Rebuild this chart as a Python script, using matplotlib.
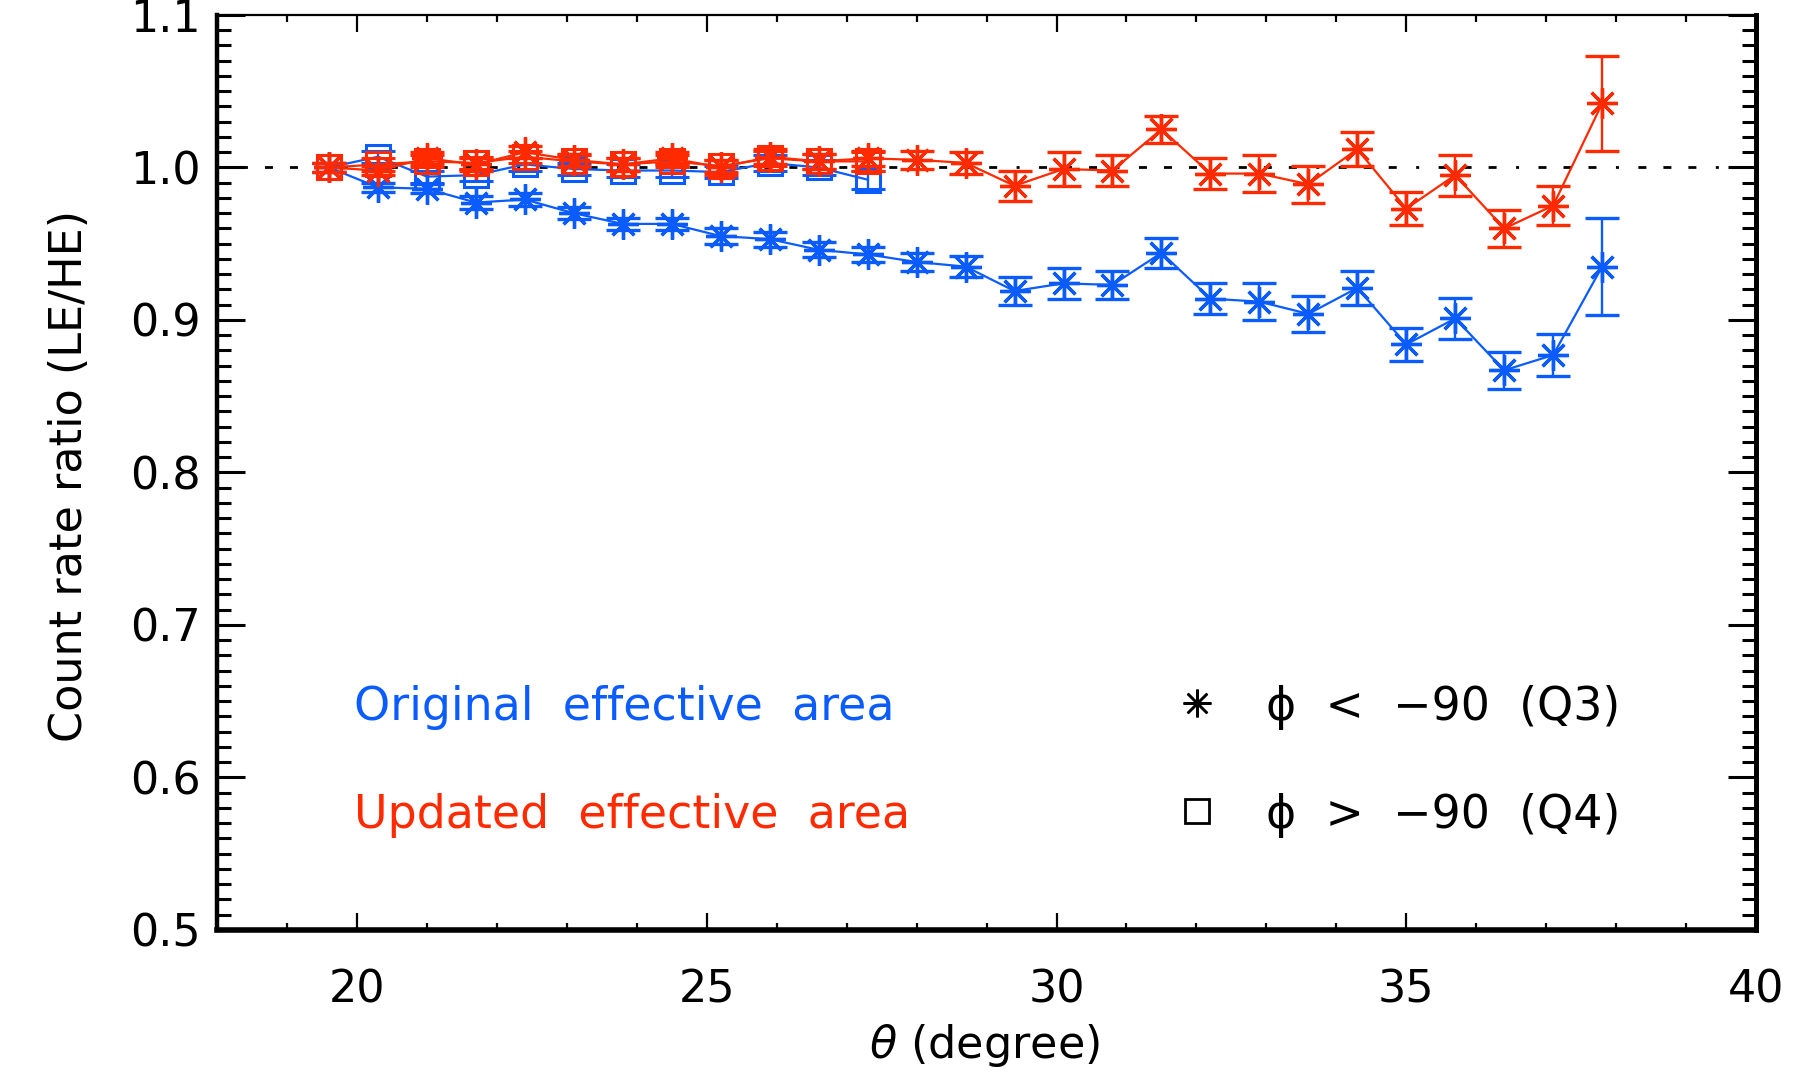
import matplotlib
matplotlib.use("Agg")
import matplotlib.pyplot as plt
from matplotlib.ticker import MultipleLocator

# ---- data ----
theta = [19.6, 20.3, 21.0, 21.7, 22.4, 23.1, 23.8, 24.5, 25.2, 25.9, 26.6, 27.3,
         28.0, 28.7, 29.4, 30.1, 30.8, 31.5, 32.2, 32.9, 33.6, 34.3, 35.0, 35.7,
         36.4, 37.1, 37.8]
theta_q4 = [19.6, 20.3, 21.0, 21.7, 22.4, 23.1, 23.8, 24.5, 25.2, 25.9, 26.6, 27.3]

orig_q3 = [1.000, 0.987, 0.986, 0.977, 0.979, 0.970, 0.963, 0.963, 0.955, 0.953,
           0.946, 0.943, 0.938, 0.935, 0.919, 0.924, 0.923, 0.944, 0.914, 0.912,
           0.904, 0.921, 0.884, 0.901, 0.867, 0.877, 0.935]
orig_q3_err = [0.003, 0.003, 0.003, 0.004, 0.004, 0.004, 0.004, 0.004, 0.005, 0.005,
               0.005, 0.005, 0.006, 0.007, 0.009, 0.010, 0.009, 0.010, 0.010, 0.012,
               0.012, 0.011, 0.011, 0.0135, 0.012, 0.014, 0.032]

upd_q3 = [1.000, 0.998, 1.006, 1.002, 1.010, 1.005, 1.002, 1.006, 1.000, 1.007,
          1.004, 1.006, 1.005, 1.003, 0.988, 0.999, 0.998, 1.025, 0.996, 0.996,
          0.989, 1.012, 0.973, 0.995, 0.960, 0.975, 1.042]
upd_q3_err = [0.003, 0.003, 0.004, 0.004, 0.004, 0.004, 0.004, 0.004, 0.005, 0.005,
              0.005, 0.005, 0.006, 0.007, 0.010, 0.011, 0.010, 0.009, 0.010, 0.012,
              0.012, 0.011, 0.011, 0.0135, 0.012, 0.013, 0.031]

orig_q4 = [1.000, 1.007, 0.994, 0.995, 1.002, 0.999, 0.998, 0.998, 0.997, 1.003,
           1.000, 0.992]
orig_q4_err = [0.003, 0.004, 0.004, 0.004, 0.004, 0.004, 0.004, 0.004, 0.004, 0.005,
               0.005, 0.006]
upd_q4 = [1.000, 1.002, 1.004, 1.003, 1.007, 1.004, 1.002, 1.004, 1.001, 1.006,
          1.004, 1.004]
upd_q4_err = [0.003, 0.004, 0.004, 0.004, 0.004, 0.004, 0.004, 0.004, 0.004, 0.005,
              0.005, 0.006]

x_ticks = [20, 25, 30, 35, 40]
y_ticks = [0.5, 0.6, 0.7, 0.8, 0.9, 1.0, 1.1]

BLUE = "#0a5cff"
RED = "#ff2a00"

plt.rcParams['font.family'] = ['DejaVu Sans']
plt.rcParams['mathtext.fontset'] = 'dejavusans'

fig = plt.figure(figsize=(17.97, 10.77), dpi=100)
ax = fig.add_axes([0.1208, 0.1365, 0.8564, 0.8496])

ax.set_xlim(18, 40)
ax.set_ylim(0.5, 1.1)

# reference line
ax.axhline(1.0, color='black', lw=2,
           linestyle=(0, (1.08, 7.0, 2.88, 6.12, 2.88, 6.12, 2.88, 7.0)), zorder=1)

star = (8, 2, 0)
common = dict(lw=1.6, elinewidth=1.7, capsize=12, capthick=1.7)

ax.errorbar(theta_q4, orig_q4, yerr=orig_q4_err, color=BLUE, marker='s', ms=17,
            mfc='none', mew=2.2, zorder=3, **common)
ax.errorbar(theta, orig_q3, yerr=orig_q3_err, color=BLUE, marker=star, ms=22,
            mew=2.4, zorder=4, **common)
ax.errorbar(theta_q4, upd_q4, yerr=upd_q4_err, color=RED, marker='s', ms=17,
            mfc='none', mew=2.2, zorder=5, **common)
ax.errorbar(theta, upd_q3, yerr=upd_q3_err, color=RED, marker=star, ms=22,
            mew=2.4, zorder=6, **common)

# ticks
ax.set_xticks(x_ticks)
ax.set_xticklabels([str(t) for t in x_ticks])
ax.set_yticks(y_ticks)
ax.set_yticklabels([f"{t:.1f}" for t in y_ticks])
ax.xaxis.set_minor_locator(MultipleLocator(1))
ax.yaxis.set_minor_locator(MultipleLocator(0.01))
ax.tick_params(axis='both', which='both', direction='in', top=True, right=True,
               colors='black')
ax.tick_params(axis='x', which='major', length=12, width=1.6, labelsize=32, pad=28)
ax.tick_params(axis='x', which='minor', length=5, width=1.6)
ax.tick_params(axis='y', which='major', length=20, width=2.2, labelsize=32, pad=12)
ax.tick_params(axis='y', which='minor', length=10, width=2.2)

for side, w in [('top', 1.6), ('bottom', 4.0), ('left', 3.2), ('right', 3.6)]:
    ax.spines[side].set_linewidth(w)
    ax.spines[side].set_color('black')

# axis labels
fig.text(0.0384, 0.558, "Count rate ratio (LE/HE)", rotation=90, ha='center',
         va='center', fontsize=32)
fig.text(0.548, 0.0297, r"$\theta$ (degree)", ha='center', va='center', fontsize=32)

# in-plot legend texts
y1, y2 = 0.2295, 0.111
ax.text(0.0889, y1, "Original  effective  area", transform=ax.transAxes,
        color=BLUE, fontsize=33, ha='left', va='baseline')
ax.text(0.0889, y2, "Updated  effective  area", transform=ax.transAxes,
        color=RED, fontsize=33, ha='left', va='baseline')

ax.plot([0.637], [0.248], transform=ax.transAxes, marker=star, ms=20, mew=1.8,
        color='black', linestyle='none', clip_on=False)
ax.plot([0.637], [0.130], transform=ax.transAxes, marker='s', ms=17, mew=2,
        mfc='none', color='black', linestyle='none', clip_on=False)
ax.text(0.6815, y1, "ϕ  <  −90  (Q3)", transform=ax.transAxes,
        color='black', fontsize=33, ha='left', va='baseline')
ax.text(0.6815, y2, "ϕ  >  −90  (Q4)", transform=ax.transAxes,
        color='black', fontsize=33, ha='left', va='baseline')

fig.savefig("out.png", dpi=100, facecolor='white')
